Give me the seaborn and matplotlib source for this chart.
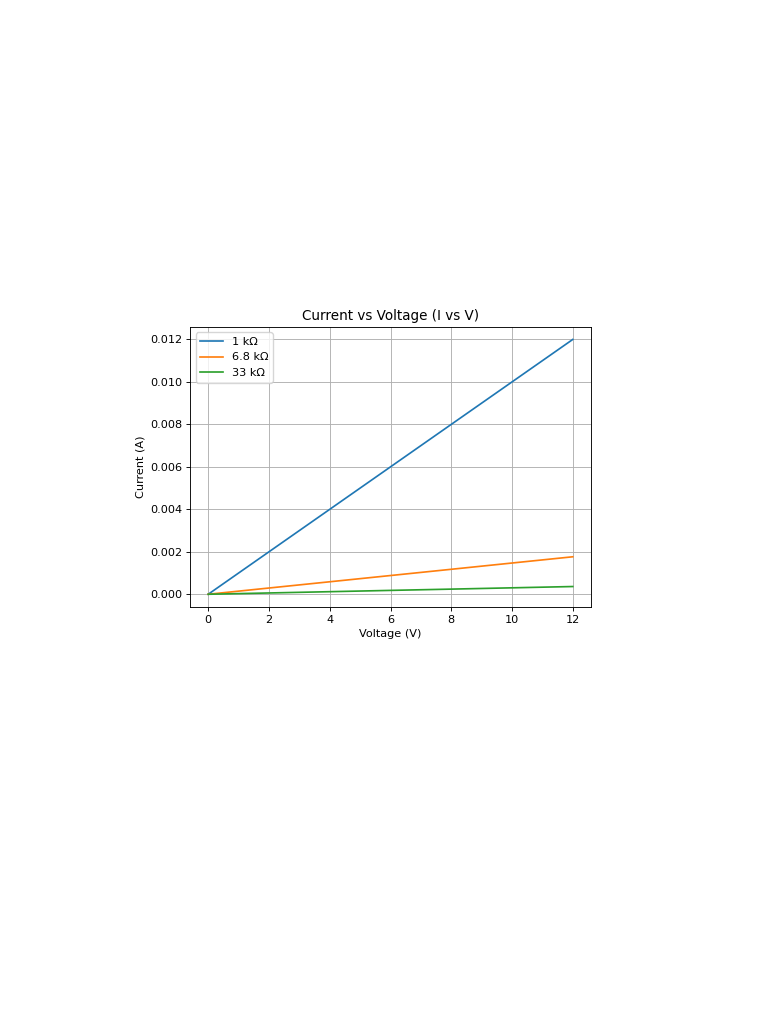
import matplotlib
matplotlib.use("Agg")
import matplotlib.pyplot as plt
import seaborn as sns
import pandas as pd

voltage = [0, 2, 4, 6, 8, 10, 12]
current_1k = [0.0, 0.002, 0.004, 0.006, 0.008, 0.010, 0.012]
current_6k8 = [0.0, 0.000294, 0.000588, 0.000882, 0.001176, 0.001471, 0.001765]
current_33k = [0.0, 0.0000606, 0.000121, 0.000182, 0.000242, 0.000303, 0.000364]
labels = ["1 kΩ", "6.8 kΩ", "33 kΩ"]
colors = ["#1f77b4", "#ff7f0e", "#2ca02c"]

rows = []
for lab, cur in zip(labels, [current_1k, current_6k8, current_33k]):
    for v, i in zip(voltage, cur):
        rows.append({"Voltage": v, "Current": i, "Resistor": lab})
df = pd.DataFrame(rows)

s = 0.81
fig = plt.figure(figsize=(7.68, 10.24), dpi=100)
ax = fig.add_axes([190/768, 1-607/1024, (591-190)/768, (607-326.7)/1024])
sns.lineplot(data=df, x="Voltage", y="Current", hue="Resistor", palette=colors,
             hue_order=labels, linewidth=1.5*s, ax=ax)
ax.set_title("Current vs Voltage (I vs V)", fontsize=12*s, pad=6*s)
ax.set_xlabel("Voltage (V)", fontsize=10*s, labelpad=4*s)
ax.set_ylabel("Current (A)", fontsize=10*s, labelpad=4*s)
ax.tick_params(labelsize=10*s, width=0.8*s, length=3.5*s, pad=3.5*s)
for sp in ax.spines.values():
    sp.set_linewidth(0.8*s)
ax.grid(True, linewidth=0.8*s, color="#b0b0b0")
ax.set_xticks([0, 2, 4, 6, 8, 10, 12])
ax.set_yticks([0, 0.002, 0.004, 0.006, 0.008, 0.010, 0.012])
ax.set_yticklabels(["0.000", "0.002", "0.004", "0.006", "0.008", "0.010", "0.012"])
ax.set_xlim(-0.6, 12.6)
ax.set_ylim(-0.0006, 0.0126)
leg = ax.legend(title=None, fontsize=10*s, loc="upper left")
for line in leg.get_lines():
    line.set_linewidth(1.5*s)
fig.savefig("out.png", dpi=100)
